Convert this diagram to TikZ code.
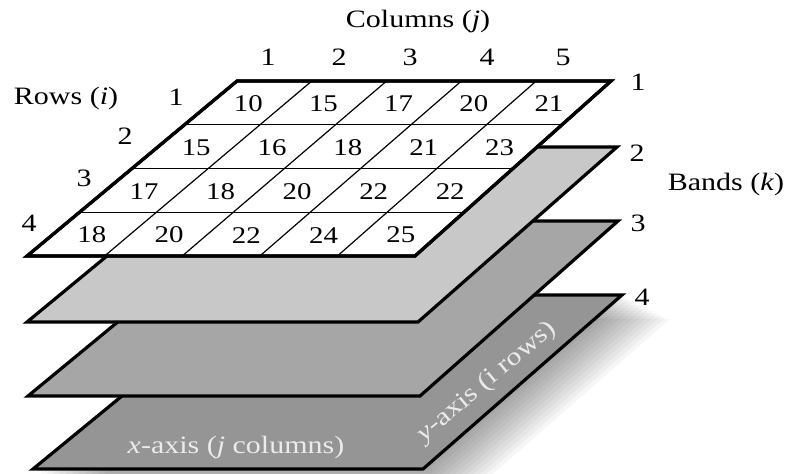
\documentclass[tikz,border=0pt]{standalone}
\usepackage{fontspec}
\setmainfont[FakeStretch=1.2]{Liberation Serif}
\definecolor{lay2}{HTML}{C8C8C8}
\definecolor{lay3}{HTML}{A6A6A6}
\definecolor{lay4}{HTML}{959595}
\begin{document}
\begin{tikzpicture}[x=0.5pt,y=-0.5pt,
  lyr/.style={draw=black,line width=1.6pt,line join=miter},
  gridln/.style={draw=black,line width=0.6pt},
  lbl/.style={font=\fontsize{12.5}{14}\selectfont,inner sep=0pt},
  cell/.style={font=\fontsize{12}{14}\selectfont,inner sep=0pt},
  axl/.style={font=\fontsize{12.5}{14}\selectfont,text=black!8,inner sep=0pt}]
\useasboundingbox (0,0) rectangle (787,473);
% soft shadow of the bottom layer
\foreach \k in {1,...,12}{
  \fill[black,opacity=0.035] (245+4*\k,295+2*\k) -- (622+4*\k,295+2*\k) -- (423+4*\k,469+2*\k) -- (33+4*\k,469+2*\k) -- cycle;
}
% layers, bottom to top
\draw[lyr,fill=lay4] (245,295) -- (622,295) -- (423,469) -- (33,469) -- cycle;
\draw[lyr,fill=lay3] (240,221) -- (618,221) -- (420,396) -- (28,396) -- cycle;
\draw[lyr,fill=lay2] (239,147) -- (617,147) -- (418,322) -- (27,322) -- cycle;
\draw[lyr,fill=white] (237,81) -- (611,81) -- (415,256) -- (27,256) -- cycle;
% grid of the top layer
\foreach \r in {1,2,3}{
  \draw[gridln] ({237-210*\r/4},{81+175*\r/4}) -- ({611-196*\r/4},{81+175*\r/4});
}
\foreach \c in {1,2,3,4}{
  \draw[gridln] ({237+374*\c/5},81) -- ({27+388*\c/5},256);
}
\draw[lyr] (237,81) -- (611,81) -- (415,256) -- (27,256) -- cycle;
% cell values
\foreach \r/\vals in {1/{10,15,17,20,21},2/{15,16,18,21,23},3/{17,18,20,22,22},4/{18,20,22,24,25}}{
  \foreach \v [count=\c] in \vals {
    \pgfmathsetmacro\sv{(\r-0.5)/4}
    \pgfmathsetmacro\tv{(\c-0.5)/5}
    \pgfmathsetmacro\xl{237-210*\sv}
    \pgfmathsetmacro\xr{611-196*\sv}
    \node[cell] (c\r\c) at ({\xl+\tv*(\xr-\xl)},{82+175*\sv}) {\v};
  }
}
% labels
\node[lbl] (cols) at (418,21) {Columns (\textit{j})};
\node[lbl] (cn1) at (268,57) {1};
\node[lbl] (cn2) at (339,57) {2};
\node[lbl] (cn3) at (410,57) {3};
\node[lbl] (cn4) at (487,57) {4};
\node[lbl] (cn5) at (563,57) {5};
\node[lbl] (rows) at (66,98) {Rows (\textit{i})};
\node[lbl] (rn1) at (176,97) {1};
\node[lbl] (rn2) at (125,136) {2};
\node[lbl] (rn3) at (84,178) {3};
\node[lbl] (rn4) at (29,223) {4};
\node[lbl] (bn1) at (638,82) {1};
\node[lbl] (bn2) at (637,153) {2};
\node[lbl] (bn3) at (638,223) {3};
\node[lbl] (bn4) at (642,297) {4};
\node[lbl] (bands) at (726,184) {Bands (\textit{k})};
\node[axl] (xax) at (236,447) {\textit{x}-axis (\textit{j} columns)};
\node[axl,rotate=40] (yax) at (487,382) {\textit{y}-axis (i rows)};
\end{tikzpicture}
\end{document}
